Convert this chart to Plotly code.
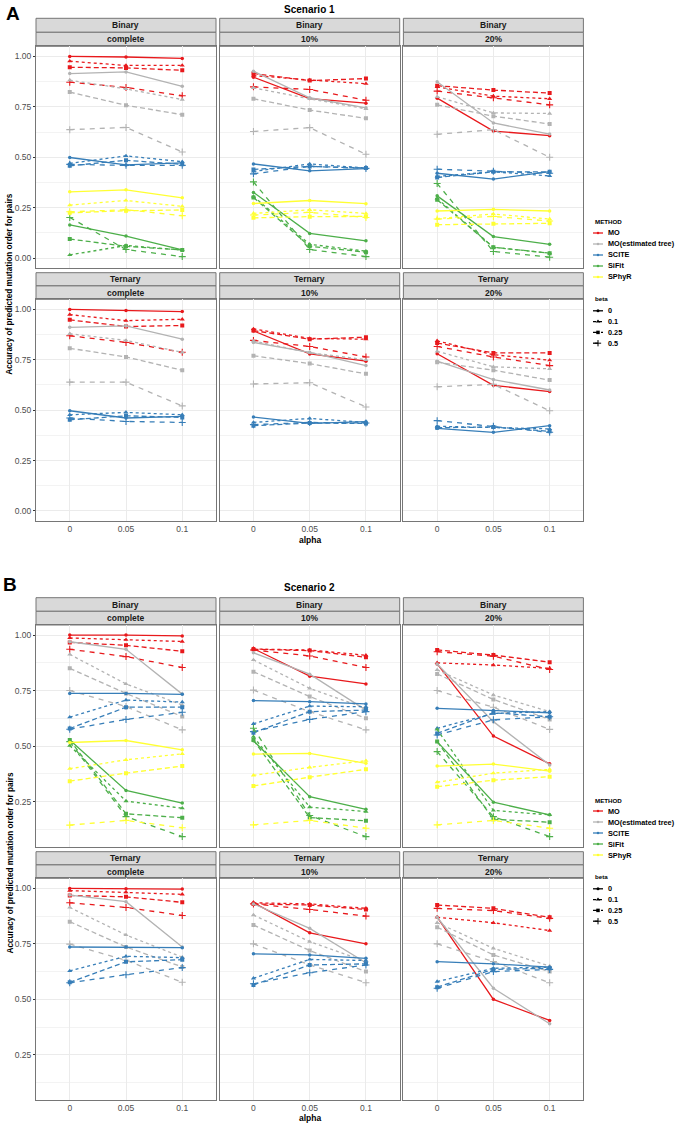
import plotly.graph_objects as go

W, H = 685, 1125

ALPHA = ["0", "0.05", "0.1"]
BETAS = ["0", "0.1", "0.25", "0.5"]
METHODS = ["MO", "MO(estimated tree)", "SCITE", "SiFit", "SPhyR"]
TYPES = ["Binary", "Ternary"]
MISSING = ["complete", "10%", "20%"]
SCENARIOS = ["Scenario 1", "Scenario 2"]
PANEL_TAGS = ["A", "B"]

# values: method -> one list of 3 values (alpha 0, 0.05, 0.1) per beta (0, 0.1, 0.25, 0.5)
S1_BINARY_COMPLETE = {
    "MO": [[1.000, 0.997, 0.990], [0.976, 0.955, 0.955], [0.946, 0.943, 0.931], [0.872, 0.846, 0.805]],
    "MO(estimated tree)": [[0.915, 0.923, 0.852], [0.882, 0.839, 0.786], [0.823, 0.758, 0.711], [0.637, 0.648, 0.526]],
    "SCITE": [[0.499, 0.462, 0.472], [0.470, 0.507, 0.478], [0.458, 0.485, 0.465], [0.465, 0.460, 0.460]],
    "SiFit": [[0.165, 0.110, 0.041], [0.016, 0.063, 0.041], [0.095, 0.059, 0.041], [0.202, 0.043, 0.008]],
    "SPhyR": [[0.329, 0.339, 0.299], [0.263, 0.286, 0.257], [0.225, 0.235, 0.239], [0.230, 0.240, 0.211]],
}
S1_BINARY_10 = {
    "MO": [[0.897, 0.791, 0.768], [0.905, 0.883, 0.865], [0.915, 0.880, 0.890], [0.849, 0.836, 0.783]],
    "MO(estimated tree)": [[0.926, 0.795, 0.745], [0.844, 0.790, 0.740], [0.790, 0.734, 0.693], [0.628, 0.647, 0.515]],
    "SCITE": [[0.467, 0.433, 0.444], [0.430, 0.467, 0.447], [0.440, 0.455, 0.447], [0.418, 0.455, 0.445]],
    "SiFit": [[0.326, 0.123, 0.086], [0.306, 0.069, 0.035], [0.301, 0.059, 0.030], [0.378, 0.043, 0.008]],
    "SPhyR": [[0.271, 0.286, 0.270], [0.222, 0.240, 0.222], [0.200, 0.206, 0.207], [0.214, 0.227, 0.202]],
}
S1_BINARY_20 = {
    "MO": [[0.793, 0.630, 0.607], [0.849, 0.803, 0.790], [0.855, 0.833, 0.818], [0.828, 0.795, 0.760]],
    "MO(estimated tree)": [[0.874, 0.670, 0.615], [0.800, 0.720, 0.717], [0.760, 0.704, 0.665], [0.614, 0.637, 0.500]],
    "SCITE": [[0.421, 0.392, 0.429], [0.405, 0.428, 0.408], [0.400, 0.428, 0.428], [0.441, 0.431, 0.421]],
    "SiFit": [[0.309, 0.107, 0.069], [0.296, 0.054, 0.025], [0.290, 0.054, 0.025], [0.370, 0.033, 0.005]],
    "SPhyR": [[0.234, 0.242, 0.234], [0.196, 0.219, 0.194], [0.166, 0.171, 0.173], [0.194, 0.207, 0.184]],
}
S1_TERNARY_COMPLETE = {
    "MO": [[1.000, 0.995, 0.989], [0.974, 0.944, 0.951], [0.948, 0.915, 0.920], [0.869, 0.836, 0.787]],
    "MO(estimated tree)": [[0.911, 0.918, 0.852], [0.879, 0.846, 0.787], [0.807, 0.764, 0.698], [0.639, 0.639, 0.521]],
    "SCITE": [[0.497, 0.461, 0.469], [0.477, 0.489, 0.477], [0.452, 0.472, 0.464], [0.461, 0.444, 0.439]],
}
S1_TERNARY_10 = {
    "MO": [[0.893, 0.779, 0.743], [0.903, 0.856, 0.852], [0.895, 0.852, 0.862], [0.846, 0.816, 0.764]],
    "MO(estimated tree)": [[0.836, 0.787, 0.721], [0.843, 0.785, 0.750], [0.770, 0.731, 0.680], [0.630, 0.636, 0.516]],
    "SCITE": [[0.466, 0.434, 0.443], [0.439, 0.459, 0.439], [0.423, 0.436, 0.434], [0.428, 0.439, 0.436]],
}
S1_TERNARY_20 = {
    "MO": [[0.780, 0.623, 0.592], [0.844, 0.775, 0.748], [0.833, 0.784, 0.784], [0.816, 0.764, 0.721]],
    "MO(estimated tree)": [[0.743, 0.652, 0.600], [0.792, 0.715, 0.705], [0.738, 0.698, 0.649], [0.616, 0.628, 0.497]],
    "SCITE": [[0.410, 0.390, 0.423], [0.420, 0.415, 0.407], [0.413, 0.416, 0.395], [0.448, 0.420, 0.390]],
}
S2_BINARY_COMPLETE = {
    "MO": [[1.000, 1.000, 0.996], [0.987, 0.979, 0.971], [0.967, 0.954, 0.927], [0.936, 0.903, 0.854]],
    "MO(estimated tree)": [[0.970, 0.936, 0.734], [0.913, 0.780, 0.685], [0.850, 0.737, 0.633], [0.750, 0.678, 0.573]],
    "SCITE": [[0.737, 0.737, 0.733], [0.630, 0.707, 0.698], [0.579, 0.675, 0.675], [0.576, 0.620, 0.652]],
    "SiFit": [[0.527, 0.300, 0.243], [0.502, 0.252, 0.220], [0.527, 0.195, 0.177], [0.520, 0.182, 0.092]],
    "SPhyR": [[0.516, 0.525, 0.483], [0.398, 0.438, 0.465], [0.342, 0.378, 0.410], [0.144, 0.165, 0.132]],
}
S2_BINARY_10 = {
    "MO": [[0.939, 0.815, 0.780], [0.937, 0.933, 0.909], [0.936, 0.930, 0.900], [0.933, 0.906, 0.854]],
    "MO(estimated tree)": [[0.920, 0.824, 0.662], [0.888, 0.760, 0.670], [0.835, 0.723, 0.625], [0.752, 0.655, 0.573]],
    "SCITE": [[0.705, 0.700, 0.690], [0.600, 0.680, 0.677], [0.560, 0.655, 0.662], [0.565, 0.620, 0.655]],
    "SiFit": [[0.524, 0.272, 0.215], [0.542, 0.225, 0.205], [0.527, 0.178, 0.163], [0.580, 0.187, 0.092]],
    "SPhyR": [[0.464, 0.467, 0.422], [0.368, 0.404, 0.434], [0.320, 0.360, 0.395], [0.145, 0.165, 0.130]],
}
S2_BINARY_20 = {
    "MO": [[0.870, 0.545, 0.420], [0.875, 0.865, 0.850], [0.933, 0.910, 0.878], [0.925, 0.905, 0.845]],
    "MO(estimated tree)": [[0.870, 0.610, 0.415], [0.843, 0.730, 0.655], [0.825, 0.710, 0.620], [0.750, 0.675, 0.575]],
    "SCITE": [[0.670, 0.660, 0.650], [0.580, 0.647, 0.655], [0.557, 0.650, 0.632], [0.550, 0.618, 0.632]],
    "SiFit": [[0.520, 0.247, 0.190], [0.575, 0.210, 0.190], [0.520, 0.170, 0.157], [0.475, 0.182, 0.092]],
    "SPhyR": [[0.410, 0.419, 0.387], [0.337, 0.378, 0.395], [0.317, 0.346, 0.362], [0.145, 0.165, 0.130]],
}
S2_TERNARY_COMPLETE = {
    "MO": [[1.000, 0.998, 0.997], [0.990, 0.983, 0.973], [0.968, 0.962, 0.937], [0.935, 0.914, 0.878]],
    "MO(estimated tree)": [[0.970, 0.940, 0.736], [0.914, 0.790, 0.690], [0.850, 0.736, 0.646], [0.749, 0.676, 0.577]],
    "SCITE": [[0.736, 0.736, 0.733], [0.628, 0.694, 0.688], [0.577, 0.669, 0.679], [0.575, 0.611, 0.643]],
}
S2_TERNARY_10 = {
    "MO": [[0.935, 0.800, 0.750], [0.935, 0.930, 0.910], [0.930, 0.925, 0.905], [0.930, 0.905, 0.875]],
    "MO(estimated tree)": [[0.930, 0.820, 0.665], [0.880, 0.760, 0.670], [0.835, 0.720, 0.625], [0.750, 0.655, 0.575]],
    "SCITE": [[0.705, 0.700, 0.685], [0.595, 0.680, 0.675], [0.565, 0.655, 0.660], [0.570, 0.620, 0.655]],
}
S2_TERNARY_20 = {
    "MO": [[0.870, 0.500, 0.405], [0.870, 0.845, 0.810], [0.925, 0.910, 0.870], [0.910, 0.900, 0.865]],
    "MO(estimated tree)": [[0.870, 0.550, 0.390], [0.845, 0.730, 0.650], [0.825, 0.700, 0.625], [0.750, 0.670, 0.575]],
    "SCITE": [[0.670, 0.660, 0.645], [0.580, 0.640, 0.645], [0.555, 0.635, 0.640], [0.550, 0.625, 0.635]],
}

PANELS = [
    [[S1_BINARY_COMPLETE, S1_BINARY_10, S1_BINARY_20], [S1_TERNARY_COMPLETE, S1_TERNARY_10, S1_TERNARY_20]],
    [[S2_BINARY_COMPLETE, S2_BINARY_10, S2_BINARY_20], [S2_TERNARY_COMPLETE, S2_TERNARY_10, S2_TERNARY_20]],
]

# ---------------- styling ----------------
COLORS = {"MO": "#E8191C", "MO(estimated tree)": "#B3B3B3", "SCITE": "#377EB8",
          "SiFit": "#4DAF4A", "SPhyR": "#FFFF33"}
DASHES = ["solid", "3px,3px", "5px,3px", "5px,5px"]
SYMBOLS = ["circle", "triangle-up", "square", "cross-thin"]
MSIZES = [3.5, 4.5, 4, 5]
FONT = "Liberation Sans, Arial, sans-serif"
BORDER = "#767676"
GRID = "#EBEBEB"

# layout geometry (pixels)
COL_X = [(36, 216), (219.7, 399.7), (403.4, 583.4)]
PLOT_Y = [[(46.3, 268.3), (299.3, 521.0)], [(625.0, 846.7), (878.3, 1100.0)]]
STRIP_Y = [[(18.3, 32.3, 46.3), (272.7, 285.9, 299.3)], [(597.7, 611.3, 625.0), (851.7, 864.9, 878.3)]]
YRANGES = [[-0.05, 1.05], [0.0466, 1.0454]]
TITLE_Y = [9.5, 588.0]
TAG_POS = [(13, 13.5), (10, 584)]
XLAB_Y = [539.5, 1118.0]
LEGEND_TOP = [222.0, 800.0]


def fx(px):
    return px / W


def fy(py):
    return 1 - py / H


fig = go.Figure()
layout = dict(shapes=[], annotations=[])

for s in range(2):
    for r in range(2):
        for c in range(3):
            k = s * 6 + r * 3 + c + 1
            xn = "x" if k == 1 else f"x{k}"
            yn = "y" if k == 1 else f"y{k}"
            data = PANELS[s][r][c]
            for m in METHODS:
                if m not in data:
                    continue
                for b, vals in enumerate(data[m]):
                    col = COLORS[m]
                    fig.add_trace(go.Scatter(
                        x=ALPHA, y=vals, xaxis=xn, yaxis=yn, mode="lines+markers",
                        line=dict(color=col, width=1.3, dash=DASHES[b]),
                        marker=dict(symbol=SYMBOLS[b], size=MSIZES[b], color=col,
                                    line=dict(color=col, width=1.1 if SYMBOLS[b] == "cross-thin" else 0)),
                        showlegend=False, hoverinfo="skip"))
            x0, x1 = COL_X[c]
            y0, y1 = PLOT_Y[s][r]
            layout["xaxis" if k == 1 else f"xaxis{k}"] = dict(
                domain=[fx(x0), fx(x1)], anchor=yn, type="category", range=[-0.6, 2.6],
                showgrid=True, gridcolor=GRID, gridwidth=1, zeroline=False,
                showline=True, mirror=True, linecolor=BORDER, linewidth=1,
                ticks="", showticklabels=(r == 1),
                tickfont=dict(family=FONT, size=8.5, color="#4D4D4D"))
            layout["yaxis" if k == 1 else f"yaxis{k}"] = dict(
                domain=[fy(y1), fy(y0)], anchor=xn, range=YRANGES[s],
                tickvals=[0, 0.25, 0.5, 0.75, 1.0], tickformat=".2f",
                showgrid=True, gridcolor=GRID, gridwidth=1, zeroline=False,
                minor=dict(tickvals=[0.125, 0.375, 0.625, 0.875], showgrid=True, gridcolor="#F3F3F3", gridwidth=0.6),
                showline=True, mirror=True, linecolor=BORDER, linewidth=1,
                ticks="outside" if c == 0 else "", ticklen=2, tickcolor="#333333",
                showticklabels=(c == 0), tickfont=dict(family=FONT, size=8.5, color="#4D4D4D"))
            # facet strips (two levels)
            st = STRIP_Y[s][r]
            for lvl, label in enumerate([TYPES[r], MISSING[c]]):
                layout["shapes"].append(dict(
                    type="rect", xref="paper", yref="paper", x0=fx(x0), x1=fx(x1),
                    y0=fy(st[lvl + 1]), y1=fy(st[lvl]), fillcolor="#D9D9D9",
                    line=dict(color=BORDER, width=1), layer="below"))
                layout["annotations"].append(dict(
                    text=label, xref="paper", yref="paper", x=fx((x0 + x1) / 2),
                    y=fy((st[lvl] + st[lvl + 1]) / 2), showarrow=False,
                    font=dict(family=FONT, size=8.5, color="#1A1A1A", weight="bold"),
                    xanchor="center", yanchor="middle"))

    # scenario title, panel tag, axis titles
    layout["annotations"].append(dict(
        text=f"<b>{SCENARIOS[s]}</b>", xref="paper", yref="paper", x=fx(309.5), y=fy(TITLE_Y[s]),
        showarrow=False, font=dict(family=FONT, size=10, color="#000000"), xanchor="center", yanchor="middle"))
    layout["annotations"].append(dict(
        text=f"<b>{PANEL_TAGS[s]}</b>", xref="paper", yref="paper", x=fx(TAG_POS[s][0]), y=fy(TAG_POS[s][1]),
        showarrow=False, font=dict(family=FONT, size=19, color="#000000"), xanchor="center", yanchor="middle"))
    layout["annotations"].append(dict(
        text="<b>alpha</b>", xref="paper", yref="paper", x=fx(309.5), y=fy(XLAB_Y[s]),
        showarrow=False, font=dict(family=FONT, size=8.5, color="#000000"), xanchor="center", yanchor="middle"))
    ymid = (PLOT_Y[s][0][0] + PLOT_Y[s][1][1]) / 2
    layout["annotations"].append(dict(
        text="<b>Accuracy of predicted mutation order for pairs</b>", xref="paper", yref="paper",
        x=fx(10), y=fy(ymid), textangle=-90, showarrow=False,
        font=dict(family=FONT, size=8.2, color="#000000"), xanchor="center", yanchor="middle"))

    # legend drawn as a small auxiliary plot
    k = 13 + s
    lt = LEGEND_TOP[s]
    ly0, ly1 = lt - 15, lt + 135
    layout[f"xaxis{k}"] = dict(domain=[fx(585), 1.0], range=[585, 685], anchor=f"y{k}", visible=False, fixedrange=True)
    layout[f"yaxis{k}"] = dict(domain=[fy(ly1), fy(ly0)], range=[ly1, ly0], anchor=f"x{k}", visible=False, fixedrange=True)
    layout["annotations"].append(dict(
        text="<b>METHOD</b>", xref=f"x{k}", yref=f"y{k}", x=593, y=lt, showarrow=False,
        font=dict(family=FONT, size=6.2, color="#000000"), xanchor="left", yanchor="middle"))
    for i, m in enumerate(METHODS):
        yy = lt + 11 * (i + 1)
        fig.add_trace(go.Scatter(
            x=[593, 603], y=[yy, yy], xaxis=f"x{k}", yaxis=f"y{k}", mode="lines",
            line=dict(color=COLORS[m], width=1.3), showlegend=False, hoverinfo="skip"))
        fig.add_trace(go.Scatter(
            x=[598], y=[yy], xaxis=f"x{k}", yaxis=f"y{k}", mode="markers",
            marker=dict(color=COLORS[m], size=2.5), showlegend=False, hoverinfo="skip"))
        layout["annotations"].append(dict(
            text=f"<b>{m}</b>", xref=f"x{k}", yref=f"y{k}", x=606, y=yy, showarrow=False,
            font=dict(family=FONT, size=7.3, color="#000000"), xanchor="left", yanchor="middle"))
    bt = lt + 11 * 7 - 0.7
    layout["annotations"].append(dict(
        text="<b>beta</b>", xref=f"x{k}", yref=f"y{k}", x=593, y=bt, showarrow=False,
        font=dict(family=FONT, size=6.2, color="#000000"), xanchor="left", yanchor="middle"))
    for i, b in enumerate(BETAS):
        yy = bt + 12.5 + 10.8 * i
        fig.add_trace(go.Scatter(
            x=[593, 603], y=[yy, yy], xaxis=f"x{k}", yaxis=f"y{k}", mode="lines",
            line=dict(color="#000000", width=1.3, dash=DASHES[i]), showlegend=False, hoverinfo="skip"))
        fig.add_trace(go.Scatter(
            x=[598], y=[yy], xaxis=f"x{k}", yaxis=f"y{k}", mode="markers",
            marker=dict(symbol=SYMBOLS[i], size=MSIZES[i] - 0.5, color="#000000",
                        line=dict(color="#000000", width=1.0 if SYMBOLS[i] == "cross-thin" else 0)),
            showlegend=False, hoverinfo="skip"))
        layout["annotations"].append(dict(
            text=f"<b>{b}</b>", xref=f"x{k}", yref=f"y{k}", x=606, y=yy, showarrow=False,
            font=dict(family=FONT, size=7.3, color="#000000"), xanchor="left", yanchor="middle"))

fig.update_layout(
    width=W, height=H, margin=dict(l=0, r=0, t=0, b=0),
    paper_bgcolor="white", plot_bgcolor="white", showlegend=False,
    font=dict(family=FONT), **layout)

fig.write_html("out.html", config={"displayModeBar": False},
               post_script="document.body.style.margin='0px';document.body.style.overflow='hidden';")
